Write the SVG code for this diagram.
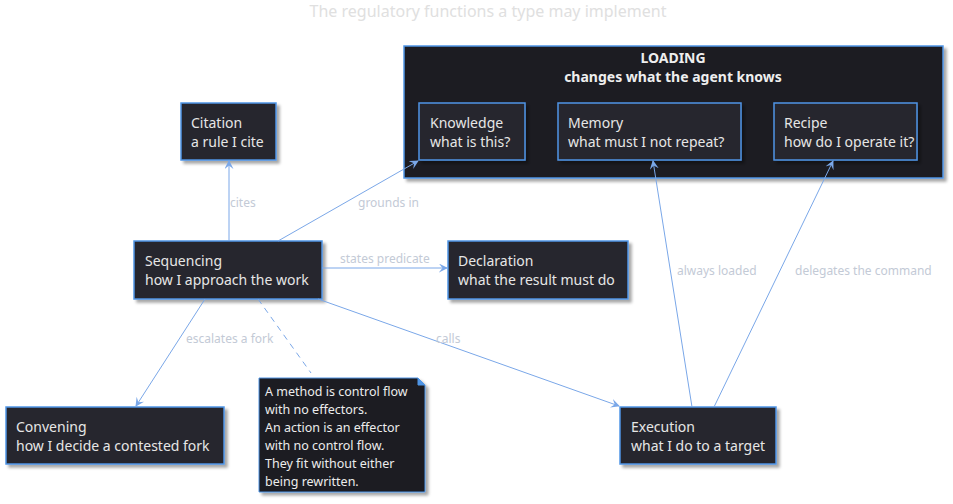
<svg xmlns="http://www.w3.org/2000/svg" width="953" height="504" viewBox="0 0 953 504">
<defs>
<filter id="sh" x="-10%" y="-10%" width="130%" height="140%"><feDropShadow dx="3" dy="3" stdDeviation="1.5" flood-color="#000" flood-opacity="0.35"/></filter>
<marker id="ar" viewBox="0 0 10 10" refX="9" refY="5" markerWidth="9" markerHeight="9" orient="auto"><path d="M0,0 L10,5 L0,10 L4,5 Z" fill="#7aa7e8"/></marker>
<style>
.n{fill:#28272d;stroke:#4f95e6;stroke-width:1.5;filter:url(#sh)}
.c{fill:#1d1c21;stroke:#4f95e6;stroke-width:1.5;filter:url(#sh)}
.t{font-family:"Noto Sans",sans-serif;font-size:14px;fill:#e6e6e6}
.b{font-family:"Noto Sans",sans-serif;font-size:14px;font-weight:bold;fill:#eeeeee;text-anchor:middle}
.l{font-family:"Noto Sans",sans-serif;font-size:12px;fill:#c3cad6}
.nt{font-family:"Noto Sans",sans-serif;font-size:12.5px;fill:#ececec}
.e{stroke:#7aa7e8;stroke-width:1;fill:none;marker-end:url(#ar)}
</style>
</defs>
<rect width="953" height="504" fill="#ffffff"/>
<text x="488" y="17" text-anchor="middle" font-family="Noto Sans, sans-serif" font-size="16" fill="#e0e0e0">The regulatory functions a type may implement</text>
<g id="loading">
<rect class="c" x="404" y="46" width="539" height="132"/>
<text class="b" x="673" y="63">LOADING</text>
<text class="b" x="673" y="82">changes what the agent knows</text>
</g>
<g id="knowledge"><rect class="n" x="419" y="103" width="106" height="57"/><text class="t" x="430" y="128">Knowledge</text><text class="t" x="430" y="147">what is this?</text></g>
<g id="memory"><rect class="n" x="558" y="103" width="183" height="57"/><text class="t" x="568" y="128">Memory</text><text class="t" x="568" y="147">what must I not repeat?</text></g>
<g id="recipe"><rect class="n" x="774" y="103" width="143" height="57"/><text class="t" x="784" y="128">Recipe</text><text class="t" x="784" y="147">how do I operate it?</text></g>
<g id="citation"><rect class="n" x="181" y="103" width="95" height="57"/><text class="t" x="191" y="128">Citation</text><text class="t" x="191" y="147">a rule I cite</text></g>
<g id="sequencing"><rect class="n" x="134" y="241" width="188" height="58"/><text class="t" x="145" y="266">Sequencing</text><text class="t" x="145" y="285">how I approach the work</text></g>
<g id="declaration"><rect class="n" x="448" y="241" width="180" height="58"/><text class="t" x="458" y="266">Declaration</text><text class="t" x="458" y="285">what the result must do</text></g>
<g id="convening"><rect class="n" x="6" y="407" width="218" height="57"/><text class="t" x="16" y="432">Convening</text><text class="t" x="16" y="451">how I decide a contested fork</text></g>
<g id="execution"><rect class="n" x="620" y="407" width="156" height="57"/><text class="t" x="631" y="432">Execution</text><text class="t" x="631" y="451">what I do to a target</text></g>
<g id="note">
<path d="M259,378 H418 L425,385 V492 H259 Z" fill="#1d1c21" stroke="#4f95e6" stroke-width="1" filter="url(#sh)"/>
<path d="M418,378 V385 H425" fill="#4f95e6" stroke="#4f95e6" stroke-width="1"/>
<text class="nt" x="265" y="396">A method is control flow</text>
<text class="nt" x="265" y="414">with no effectors.</text>
<text class="nt" x="265" y="432">An action is an effector</text>
<text class="nt" x="265" y="450">with no control flow.</text>
<text class="nt" x="265" y="468">They fit without either</text>
<text class="nt" x="265" y="486">being rewritten.</text>
</g>
<g id="connectors">
<line class="e" x1="229" y1="241" x2="229" y2="161"/>
<line class="e" x1="278" y1="241" x2="418" y2="161"/>
<line class="e" x1="322" y1="268" x2="447" y2="268"/>
<line class="e" x1="205" y1="299" x2="136" y2="406"/>
<line class="e" x1="318" y1="299" x2="619" y2="406"/>
<line x1="258" y1="299" x2="311" y2="373" stroke="#7aa7e8" stroke-width="1" stroke-dasharray="6,5"/>
<line class="e" x1="692" y1="407" x2="653" y2="161"/>
<line class="e" x1="714" y1="407" x2="833" y2="161"/>
<text class="l" x="230" y="207">cites</text>
<text class="l" x="358" y="207">grounds in</text>
<text class="l" x="340" y="263">states predicate</text>
<text class="l" x="186" y="343">escalates a fork</text>
<text class="l" x="436" y="343">calls</text>
<text class="l" x="677" y="275">always loaded</text>
<text class="l" x="795" y="275">delegates the command</text>
</g>
</svg>
